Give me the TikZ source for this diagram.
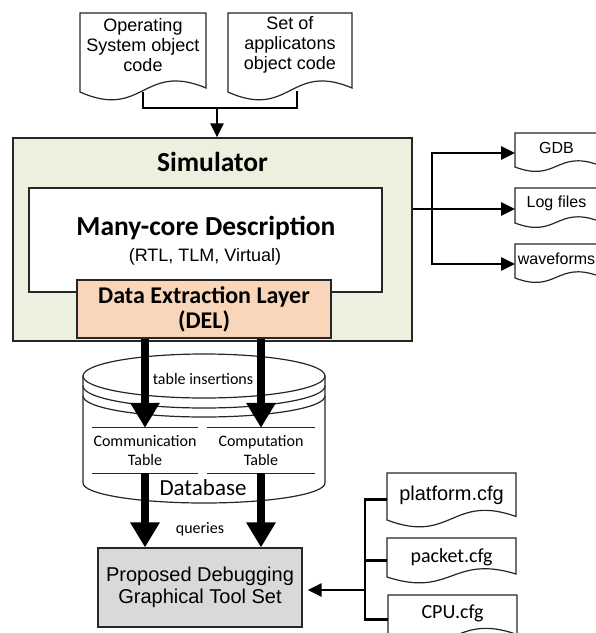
\documentclass[tikz,border=0pt]{standalone}
\usepackage{fontspec}
\setmainfont{Liberation Sans}
\newfontfamily\carl{Carlito}
\usetikzlibrary{arrows.meta,calc}
\definecolor{simgreen}{HTML}{EBF1DE}
\definecolor{delpeach}{HTML}{F9D6B9}
\definecolor{toolgray}{HTML}{D9D9D9}
\definecolor{edge}{HTML}{262626}
\tikzset{
  box/.style={draw=edge, line width=1.2pt, inner sep=0pt, align=center},
  docline/.style={draw=edge, line width=1.2pt, fill=white},
  tline/.style={draw=edge, line width=1.2pt},
  conn/.style={line width=2.6pt, black},
  connarrow/.style={conn, -{Triangle[length=14pt,width=13pt]}},
  bigarrow/.style={line width=7.5pt, -{Triangle[length=25pt,width=28pt]}},
  lbl/.style={inner sep=0pt, align=center},
}
% #1 name #2 x1 #3 ytop #4 x2 #5 yl #6 amp #7 text y #8 font #9 text
\newcommand\docshape[9]{%
  \draw[docline] (#2,#3) -- (#4,#3) -- (#4,{#5-0.5*#6})
    .. controls ({(#2+#4)/2},{#5-3.8*#6}) and ({(#2+#4)/2},{#5+3.5*#6}) .. (#2,#5) -- cycle;
  \node[lbl, font=#8] (#1) at ({(#2+#4)/2},#7) {#9};
  \coordinate (#1-w) at (#2,{(#3+#5)/2+3});
  \coordinate (#1-s) at ({(#2+#4)/2},#5);
}
\begin{document}
\begin{tikzpicture}[x=1pt,y=-1pt]
\useasboundingbox (0,0) rectangle (596,633);

% ---- input documents
\docshape{osdoc}{80}{13}{206}{92}{8}{45}{\fontsize{18}{20}\selectfont}{Operating\\System object\\code}
\docshape{appdoc}{228}{13}{352}{92}{8}{45}{\fontsize{18}{20}\selectfont}{Set of\\applicatons\\object code}

% ---- simulator
\node[box, fill=simgreen, minimum width=399pt, minimum height=203pt] (sim) at (212.5,239.5) {};
\node[lbl, font=\carl\bfseries\fontsize{27.5}{30}\selectfont] (simlabel) at (212.5,162) {Simulator};
\node[box, fill=white, minimum width=353pt, minimum height=104pt] (mc) at (205.5,240) {};
\node[lbl, font=\carl\bfseries\fontsize{27.5}{30}\selectfont] (mctitle) at (206,228) {Many-core Description};
\node[lbl, font=\fontsize{18}{20}\selectfont] (mcsub) at (205,257) {(RTL, TLM, Virtual)};
\node[box, fill=delpeach, minimum width=254pt, minimum height=58pt,
      font=\carl\bfseries\fontsize{24}{25}\selectfont] (del) at (204,309) {Data Extraction Layer\\(DEL)};

% ---- top connector
\coordinate (tj) at (217,108);
\coordinate (appout) at (297,91);
\draw[conn] (osdoc-s) |- (appout |- tj) -- (appout);
\draw[connarrow] (tj) -- (tj |- sim.north);

% ---- output documents
\docshape{gdb}{515}{133}{598}{167}{4.5}{148}{\fontsize{16}{18}\selectfont}{GDB}
\docshape{logf}{515}{188}{598}{223}{4.5}{203}{\fontsize{16}{18}\selectfont}{Log files}
\docshape{wavef}{515}{244}{598}{278}{4.5}{259}{\fontsize{16}{18}\selectfont}{waveforms}
\coordinate (ob) at (432,209);
\draw[conn] (sim.east |- ob) -- (ob);
\draw[connarrow] (ob) |- (gdb-w);
\draw[connarrow] (ob) -- (ob -| logf-w);
\draw[connarrow] (ob) |- (wavef-w);

% ---- database cylinder
\draw[docline] (83,376) -- (83,483)
  .. controls (83,494.05) and (137.17,503) .. (204,503)
  .. controls (270.83,503) and (325,494.05) .. (325,483) -- (325,376) -- cycle;
\draw[docline] (204,376) ellipse [x radius=121, y radius=22];
\draw[tline] (83,386) .. controls (83,398.15) and (137.17,408) .. (204,408)
  .. controls (270.83,408) and (325,398.15) .. (325,386);
\draw[tline] (83,396) .. controls (83,407.6) and (137.17,417) .. (204,417)
  .. controls (270.83,417) and (325,407.6) .. (325,396);
\node[lbl, minimum width=106pt, minimum height=45pt, font=\carl\fontsize{16}{19}\selectfont] (commT) at (145,450.5) {Communication\\Table};
\node[lbl, minimum width=108pt, minimum height=45pt, font=\carl\fontsize{16}{19}\selectfont] (compT) at (261,450.5) {Computation\\Table};
\draw[tline] (commT.north west) -- (commT.north east) (commT.south west) -- (commT.south east);
\draw[tline] (compT.north west) -- (compT.north east) (compT.south west) -- (compT.south east);
\node[lbl, font=\carl\fontsize{16}{19}\selectfont] (ins) at (203,379) {table insertions};
\node[lbl, font=\carl\fontsize{23}{25}\selectfont] (dbl) at (203,488) {Database};

% ---- debugging tool
\node[box, fill=toolgray, minimum width=204pt, minimum height=79pt,
      font=\fontsize{20}{22}\selectfont] (tool) at (200,587.5) {Proposed Debugging\\Graphical Tool Set};
\node[lbl, font=\carl\fontsize{16}{19}\selectfont] (qry) at (200,529) {queries};

% ---- big arrows
\draw[bigarrow] (commT.north |- del.south) -- (commT.north);
\draw[bigarrow] (compT.north |- del.south) -- (compT.north);
\draw[bigarrow] (commT.south) -- (commT.south |- tool.north);
\draw[bigarrow] (compT.south) -- (compT.south |- tool.north);

% ---- config documents
\docshape{plat}{387}{473}{516}{520}{7}{495}{\fontsize{20}{22}\selectfont}{platform.cfg}
\docshape{pack}{387}{538}{516}{577}{6}{557}{\carl\fontsize{20}{22}\selectfont}{packet.cfg}
\docshape{cpu}{388}{595}{517}{638}{7}{613}{\carl\fontsize{20}{22}\selectfont}{CPU.cfg}
\coordinate (cb) at (365,590);
\draw[conn] (plat-w) -| (cpu-w -| cb) -- (cpu-w);
\draw[conn] (pack-w) -- (pack-w -| cb);
\draw[connarrow, shorten >=5pt] (cb) -- (tool.east |- cb);
\end{tikzpicture}
\end{document}
